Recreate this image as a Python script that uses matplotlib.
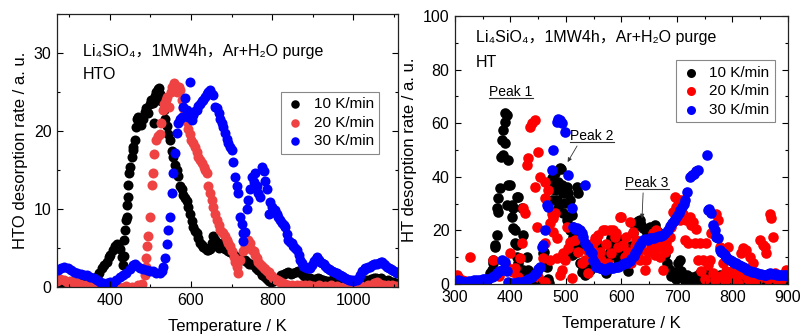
import numpy as np
import matplotlib
matplotlib.use("Agg")
import matplotlib.pyplot as plt
from matplotlib.ticker import MultipleLocator
from matplotlib.lines import Line2D

plt.rcParams['font.family'] = ['Liberation Sans', 'Noto Sans CJK SC', 'DejaVu Sans']

# ---- HTO panel data (temperature K, desorption rate a.u.) ----
hto_10_T = [272, 285, 298, 310, 322, 335, 345, 355, 362, 368, 374, 380, 386, 393, 398, 401, 407, 413, 417, 421,
            425, 429, 432, 434, 436, 438, 440, 442, 443, 445, 446, 447, 450, 454, 456, 458, 462, 464, 466, 470,
            474, 478, 482, 486, 490, 494, 498, 502, 506, 508, 512, 515, 518, 521, 524, 527, 530, 533, 536, 540,
            544, 548, 552, 556, 560, 565, 569, 573, 577, 581, 585, 589, 593, 598, 602, 606, 610, 614, 618, 622,
            626, 630, 635, 639, 643, 647, 651, 655, 659, 663, 668, 672, 676, 680, 685, 690, 695, 700, 705, 710,
            716, 721, 727, 732, 737, 743, 748, 754, 760, 765, 770, 776, 782, 787, 793, 798, 804, 810, 816, 822,
            828, 834, 840, 846, 852, 858, 864, 870, 876, 882, 888, 894, 900, 906, 912, 918, 924, 930, 936, 942,
            948, 954, 960, 966, 972, 978, 984, 990, 996, 1002, 1008, 1014, 1020, 1026, 1032, 1038, 1044, 1050,
            1056, 1062, 1068, 1074, 1080, 1086, 1092, 1098, 1104]
hto_10_y = [0.3, 0.5, 0.4, 0.6, 0.5, 0.7, 0.8, 1.0, 1.2, 1.3, 1.8, 2.4, 2.8, 3.2, 3.8, 4.1, 4.8, 5.2, 5.5, 5.4,
            4.9, 3.8, 2.8, 4.0, 6.0, 7.3, 8.6, 9.0, 10.5, 11.5, 13.1, 14.6, 15.4, 16.7, 17.6, 18.0, 18.8, 20.5, 21.6, 21.8,
            21.2, 20.8, 21.5, 22.4, 23.0, 22.3, 23.5, 24.0, 23.6, 21.0, 24.5, 25.0, 25.4, 25.5, 24.8, 23.8, 24.4, 22.7, 21.5, 20.6,
            19.6, 18.8, 17.5, 16.7, 15.6, 15.0, 14.2, 13.0, 12.6, 11.8, 11.4, 11.0, 10.2, 9.4, 8.4, 7.7, 7.2, 6.9, 6.3, 5.6,
            5.4, 5.1, 5.0, 4.8, 4.7, 4.9, 5.6, 6.6, 6.0, 5.3, 5.0, 5.4, 5.7, 5.3, 4.9, 4.6, 4.5, 4.3, 4.1, 3.9,
            3.7, 3.6, 3.5, 3.4, 3.2, 3.0, 2.9, 2.8, 2.5, 2.2, 2.0, 1.6, 1.3, 1.0, 0.8, 0.7, 0.8, 1.0, 1.2, 1.5,
            1.7, 1.8, 1.9, 1.7, 1.8, 1.9, 2.0, 1.8, 1.5, 1.3, 1.2, 1.1, 0.9, 1.0, 1.1, 1.0, 0.9, 0.8, 0.8, 0.7,
            0.9, 0.8, 0.7, 0.6, 0.6, 0.5, 0.6, 0.5, 0.4, 0.5, 0.6, 0.7, 0.6, 0.8, 0.9, 0.8, 1.0, 1.2,
            1.1, 1.0, 1.2, 0.9, 0.8, 0.9, 0.7, 0.6, 0.5]

hto_20_T = [270, 278, 286, 294, 302, 310, 318, 326, 334, 342, 352, 365, 380, 395, 410, 425, 440, 455, 470, 480,
            487, 488, 490, 492, 495, 500, 504, 506, 510, 514, 518, 523, 526, 530, 534, 538, 542, 546, 550, 554,
            558, 562, 566, 570, 573, 577, 581, 585, 589, 593, 597, 601, 605, 610, 614, 618, 622, 626, 631, 635,
            639, 643, 647, 651, 655, 659, 663, 668, 672, 676, 680, 684, 688, 692, 696, 700, 705, 709, 713, 716,
            721, 727, 733, 737, 741, 746, 750, 754, 758, 762, 766, 770, 775, 779, 783, 787, 791, 795, 799, 803,
            808, 812, 816, 820, 826, 832, 840, 850, 860, 870, 880, 890, 900, 915, 930, 945, 960, 975, 990, 1005,
            1020, 1035, 1050, 1058, 1066, 1075, 1085, 1095, 1105]
hto_20_y = [0.8, 1.0, 0.9, 0.7, 0.8, 0.6, 0.5, 0.4, 0.3, 0.2, 0.1, 0.2, 0.1, 0.0, 0.1, 0.0, 0.1, 0.0, 0.2, 0.4,
            1.5, 2.6, 3.7, 5.2, 6.5, 9.0, 13.1, 14.6, 17.1, 18.8, 19.3, 19.6, 21.0, 22.7, 23.4, 24.0, 24.4, 23.1, 25.0, 25.6,
            26.1, 25.8, 25.0, 25.7, 25.3, 24.0, 23.0, 22.3, 21.2, 20.3, 19.6, 18.8, 18.4, 18.0, 17.3, 16.7, 16.3, 15.9, 15.4, 15.0,
            14.6, 12.9, 12.0, 11.2, 10.3, 9.4, 8.6, 7.9, 7.3, 7.0, 6.9, 6.5, 6.0, 5.6, 5.2, 4.6, 3.9, 3.2, 2.6, 1.8,
            3.4, 4.6, 5.2, 5.0, 6.0, 5.6, 4.8, 4.6, 4.1, 3.7, 3.2, 3.0, 2.7, 2.5, 2.3, 2.1, 1.9, 1.6, 1.4, 1.2,
            1.0, 0.9, 0.8, 0.6, 0.5, 0.4, 0.3, 0.3, 0.2, 0.3, 0.2, 0.3, 0.1, 0.2, 0.1, 0.2, 0.1, 0.0, 0.1, 0.2,
            0.1, 0.3, 0.5, 0.7, 0.4, 0.2, 0.3, 0.2, 0.1]

hto_30_T = [272, 280, 288, 296, 304, 312, 320, 328, 336, 344, 352, 360, 368, 376, 384, 392, 400, 408, 416, 425,
            433, 441, 449, 456, 462, 468, 474, 482, 491, 499, 507, 515, 523, 528, 532, 536, 541, 544, 548, 552,
            556, 561, 565, 569, 573, 577, 581, 585, 589, 593, 598, 602, 606, 610, 614, 618, 622, 626, 630, 635,
            639, 643, 647, 651, 655, 659, 663, 668, 672, 676, 680, 684, 688, 692, 696, 701, 704, 709, 713, 717,
            721, 725, 727, 729, 733, 737, 741, 746, 750, 754, 758, 762, 766, 770, 775, 779, 783, 787, 791, 795,
            799, 803, 807, 811, 815, 820, 824, 828, 832, 836, 840, 844, 848, 852, 857, 861, 865, 869, 873, 877,
            882, 886, 890, 894, 899, 903, 907, 911, 915, 919, 923, 927, 931, 935, 939, 943, 948, 952, 956, 960,
            964, 968, 972, 975, 980, 984, 988, 992, 996, 1000, 1005, 1009, 1013, 1017, 1021, 1025, 1029, 1033,
            1037, 1041, 1045, 1050, 1054, 1058, 1062, 1067, 1071, 1075, 1079, 1083, 1088, 1092, 1096, 1100, 1104, 1108]
hto_30_y = [2.2, 2.4, 2.6, 2.5, 2.2, 1.9, 1.8, 1.7, 1.6, 1.5, 1.3, 1.1, 0.9, 0.7, 0.5, 0.5, 0.6, 0.5, 0.9, 1.3,
            1.5, 1.8, 2.3, 2.8, 3.0, 2.7, 2.5, 2.3, 2.2, 2.1, 2.0, 1.8, 1.8, 2.1, 2.6, 3.7, 5.5, 7.3, 9.0, 12.0,
            14.6, 17.2, 19.7, 21.0, 21.5, 21.8, 23.1, 24.2, 22.7, 21.8, 26.3, 21.4, 22.0, 22.6, 22.7, 23.2, 23.5, 23.8, 24.0, 24.4,
            24.8, 25.0, 25.3, 24.7, 24.6, 23.1, 23.0, 22.3, 21.5, 21.0, 20.5, 19.7, 19.0, 18.4, 18.0, 17.6, 16.0, 14.1, 13.0, 12.0,
            9.0, 8.1, 5.9, 6.9, 7.0, 10.0, 11.1, 12.6, 14.1, 13.5, 14.6, 13.0, 12.0, 11.6, 15.4, 14.9, 13.6, 12.6, 9.4, 10.9,
            10.3, 9.6, 9.9, 9.4, 9.0, 8.6, 8.2, 8.0, 7.7, 6.8, 6.0, 5.8, 5.6, 5.2, 5.0, 4.7, 4.1, 3.5, 3.1, 2.7,
            2.6, 2.5, 2.4, 2.4, 2.8, 3.3, 3.6, 3.9, 3.5, 3.2, 3.1, 3.0, 2.7, 2.5, 2.3, 2.2, 2.0, 1.9, 1.8, 1.8,
            1.6, 1.5, 1.4, 1.3, 1.1, 1.0, 0.9, 0.9, 0.9, 0.8, 0.9, 0.9, 1.2, 1.6, 2.0, 2.2, 2.4, 2.5,
            2.6, 2.6, 2.8, 2.9, 3.0, 3.0, 3.1, 3.2, 3.2, 3.0, 2.8, 2.6, 2.5, 2.3, 2.2, 2.0, 1.9, 1.8]

# ---- HT panel data ----
ht_10_T = [300, 310, 320, 330, 340, 350, 358, 363, 366, 369, 369, 372, 372, 375, 375, 378, 378, 381, 383, 384,
           387, 387, 390, 390, 391, 393, 393, 396, 396, 399, 402, 402, 405, 405, 408, 408, 411, 411, 411, 414,
           414, 417, 420, 423, 423, 426, 429, 432, 432, 438, 444, 450, 455, 459, 460, 462, 465, 468, 470, 474,
           474, 477, 480, 480, 483, 486, 486, 489, 491, 492, 495, 495, 498, 501, 501, 504, 507, 507, 510, 510,
           510, 513, 513, 516, 519, 522, 522, 525, 525, 528, 531, 534, 537, 540, 543, 546, 549, 552, 555, 558,
           561, 564, 567, 570, 573, 576, 579, 582, 585, 588, 591, 594, 597, 600, 603, 606, 609, 612, 615, 618,
           621, 624, 627, 630, 633, 636, 639, 642, 646, 648, 651, 654, 657, 660, 663, 666, 669, 672, 675, 678,
           682, 686, 690, 694, 698, 702, 705, 708, 711, 714, 718, 722, 726, 730, 734, 738, 742, 746, 750, 754,
           758, 762, 766, 770, 774, 778, 782, 786, 790, 794, 798, 802, 806, 810, 815, 820, 825, 830, 835, 840,
           845, 850, 855, 860, 866, 872, 878, 884, 890, 896]
ht_10_y = [0.5, 0.3, 0.5, 0.4, 0.6, 0.8, 1.5, 4.0, 5.2, 7.7, 9.0, 13.9, 14.6, 18.3, 28.2, 27.0, 32.0, 35.7, 47.5, 53.7,
           57.5, 48.0, 60.5, 52.5, 63.7, 63.0, 29.5, 46.3, 36.9, 36.9, 25.1, 29.4, 28.2, 20.8, 15.2, 20.1, 32.6, 14.5, 10.2, 32.5,
           7.7, 2.7, 28.2, 18.3, 5.2, 3.0, 10.2, 3.4, 5.2, 2.7, 1.5, 0.8, 1.2, 11.4, 11.8, 9.0, 6.5, 2.0, 0.5, 39.4,
           31.3, 36.3, 41.3, 35.1, 31.3, 38.2, 28.2, 43.2, 43.0, 36.9, 26.4, 33.8, 30.1, 23.9, 36.3, 33.8, 31.3, 20.1, 25.7, 15.2,
           10.8, 21.4, 17.7, 11.4, 36.3, 33.8, 16.4, 7.7, 13.9, 4.6, 6.5, 3.4, 4.0, 5.8, 5.2, 10.2, 8.0, 12.7, 16.0, 13.9,
           12.0, 10.8, 8.0, 6.5, 4.0, 10.2, 12.0, 17.0, 15.0, 13.9, 11.0, 9.0, 14.0, 16.4, 13.0, 10.5, 8.0, 5.0, 9.0, 14.0,
           19.0, 21.5, 22.5, 23.5, 23.9, 22.0, 21.0, 20.5, 19.0, 17.5, 21.3, 20.0, 18.0, 22.0, 20.0, 19.5, 17.5, 18.5, 17.5, 10.8,
           7.8, 5.5, 3.0, 4.5, 2.0, 8.0, 9.0, 5.0, 2.5, 1.0, 3.5, 1.5, 2.5, 0.5, 3.0, 1.5, 4.0, 2.5, 1.0, 3.5,
           4.0, 2.0, 3.0, 1.5, 2.5, 3.5, 1.0, 2.0, 0.5, 2.5, 1.5, 3.0, 1.0, 0.5, 2.0, 1.5, 0.5, 1.0, 2.0, 0.8,
           1.5, 0.5, 1.0, 0.3, 0.8, 0.5, 1.0, 0.3, 0.6, 0.2]

ht_20_T = [303, 306, 312, 318, 327, 340, 355, 369, 380, 393, 399, 405, 408, 414, 417, 420, 423, 426, 429, 432,
           435, 438, 444, 444, 447, 450, 450, 453, 459, 462, 462, 462, 462, 468, 471, 471, 474, 477, 477, 480,
           483, 483, 489, 492, 495, 498, 501, 504, 507, 510, 516, 522, 528, 534, 537, 540, 543, 546, 549, 552,
           555, 558, 561, 564, 567, 570, 573, 576, 579, 582, 585, 588, 591, 594, 597, 600, 603, 606, 609, 612,
           615, 618, 621, 624, 627, 630, 633, 636, 642, 645, 648, 651, 654, 657, 660, 663, 666, 669, 672, 675,
           678, 681, 684, 687, 690, 693, 696, 699, 702, 705, 708, 711, 714, 717, 720, 723, 726, 729, 732, 735,
           738, 741, 744, 747, 750, 753, 756, 759, 762, 765, 768, 771, 774, 777, 780, 783, 786, 789, 792, 795,
           798, 801, 804, 807, 810, 813, 816, 819, 822, 825, 828, 831, 834, 837, 840, 843, 846, 849, 852, 855,
           858, 861, 864, 867, 870, 873, 876, 879, 882, 888, 894, 897]
ht_20_y = [3.4, 2.5, 1.5, 1.0, 10.2, 0.5, 0.8, 9.0, 3.0, 6.5, 11.4, 4.6, 6.0, 2.7, 9.6, 15.2, 28.2, 26.4, 44.4, 46.9,
           58.7, 60.0, 61.2, 36.3, 21.4, 49.4, 2.7, 40.0, 9.6, 38.2, 32.0, 15.2, 0.9, 35.1, 22.6, 9.0, 26.3, 24.5, 19.5, 26.4,
           17.0, 9.6, 3.4, 5.2, 11.4, 9.0, 21.4, 13.3, 15.8, 2.1, 16.4, 12.0, 8.0, 9.0, 12.7, 4.0, 11.4, 13.9, 15.2, 17.0,
           16.4, 18.3, 12.0, 9.0, 20.1, 20.1, 15.0, 8.0, 20.1, 11.4, 20.0, 17.7, 18.9, 13.9, 25.1, 25.1, 14.5, 10.0, 17.6, 12.0,
           23.2, 8.0, 19.5, 14.0, 16.4, 11.0, 9.0, 13.0, 5.2, 9.0, 12.0, 16.4, 14.0, 18.9, 11.0, 20.1, 13.9, 10.2, 14.0, 5.2,
           12.0, 15.2, 13.0, 17.6, 21.4, 27.0, 32.5, 28.8, 31.3, 24.0, 31.3, 26.3, 16.4, 23.9, 15.2, 25.1, 22.0, 23.2, 15.2, 20.7,
           9.0, 15.2, 5.0, 9.0, 2.0, 15.2, 7.0, 9.0, 18.9, 4.0, 1.5, 26.3, 23.9, 13.9, 3.0, 7.7, 1.0, 5.0, 13.9, 2.5,
           4.0, 5.2, 1.5, 2.7, 0.5, 4.0, 11.4, 13.3, 3.5, 12.7, 2.0, 10.2, 5.0, 7.7, 1.0, 4.0, 2.0, 16.4, 3.0, 14.5,
           13.9, 11.4, 2.0, 26.3, 24.5, 17.6, 4.0, 2.1, 0.8, 1.5, 3.0, 5.2]

ht_30_T = [300, 305, 310, 315, 320, 325, 330, 335, 340, 345, 350, 355, 360, 366, 370, 375, 380, 384, 384, 390,
           393, 396, 402, 408, 414, 420, 426, 432, 438, 444, 447, 450, 453, 456, 459, 462, 465, 468, 474, 477,
           483, 486, 489, 492, 498, 504, 510, 513, 516, 519, 522, 525, 528, 531, 534, 535, 540, 543, 546, 549,
           552, 555, 558, 561, 564, 567, 570, 573, 576, 579, 582, 585, 590, 594, 598, 602, 606, 610, 615, 618,
           622, 625, 628, 632, 636, 639, 643, 647, 651, 655, 659, 663, 667, 671, 675, 679, 684, 688, 691, 694,
           697, 700, 703, 706, 709, 712, 715, 718, 724, 727, 730, 734, 738, 754, 756, 758, 761, 765, 768, 771,
           774, 777, 780, 783, 786, 789, 792, 795, 799, 803, 807, 811, 815, 819, 823, 827, 831, 835, 839, 844,
           848, 852, 856, 860, 864, 868, 872, 876, 880, 884, 888, 892, 896, 900]
ht_30_y = [1.2, 1.5, 1.0, 0.8, 0.9, 1.1, 1.3, 1.5, 1.4, 1.6, 1.8, 1.9, 2.0, 2.7, 3.0, 4.0, 4.8, 5.2, 9.0, 8.3,
           5.0, 0.9, 0.5, 0.4, 0.6, 0.9, 1.2, 1.8, 2.7, 3.8, 4.6, 5.5, 6.5, 13.9, 14.6, 20.1, 29.5, 28.8, 42.5, 50.0,
           60.6, 61.5, 61.2, 60.0, 56.8, 40.7, 28.2, 21.4, 20.5, 20.8, 20.5, 20.1, 19.0, 17.7, 15.2, 37.0, 13.9, 12.5, 11.4, 9.0,
           7.7, 6.5, 6.2, 6.0, 5.8, 5.5, 5.4, 5.5, 5.8, 6.3, 5.8, 6.0, 6.3, 6.5, 6.8, 7.5, 7.8, 8.0, 8.7, 9.5,
           10.5, 11.5, 12.7, 14.0, 15.2, 16.4, 16.8, 16.5, 17.0, 17.3, 17.0, 17.5, 17.8, 18.0, 18.1, 19.0, 20.1, 21.5, 22.6, 23.5,
           24.4, 25.5, 26.4, 27.5, 28.8, 30.0, 31.3, 34.4, 40.0, 40.5, 41.2, 42.0, 42.5, 48.1, 27.6, 28.0, 26.5, 22.0, 20.1, 17.6,
           17.0, 12.7, 12.0, 11.5, 10.9, 10.0, 9.5, 8.9, 8.5, 8.0, 7.7, 7.2, 6.8, 6.3, 5.8, 5.4, 5.0, 4.6, 4.3, 4.0,
           3.8, 3.6, 3.5, 3.5, 3.8, 4.0, 3.8, 3.6, 3.5, 3.5, 3.4, 3.5, 3.2, 3.0]

rate_labels = ["10 K/min", "20 K/min", "30 K/min"]
hto_colors = ["#000000", "#ef4343", "#0000ff"]
ht_colors = ["#000000", "#ff0000", "#0000ff"]
sample_text = "Li\u2084SiO\u2084\uff0c1MW4h\uff0cAr+H\u2082O purge"

fig = plt.figure(figsize=(8.02, 3.34), dpi=100)
ax1 = fig.add_axes([0.0711, 0.1407, 0.4252, 0.8174])
ax2 = fig.add_axes([0.5673, 0.1497, 0.4152, 0.8024])

# left: HTO
for T, y, lab, c in zip([hto_10_T, hto_20_T, hto_30_T], [hto_10_y, hto_20_y, hto_30_y], rate_labels, hto_colors):
    ax1.scatter(T, y, s=52, color=c, linewidths=0, label=lab)
ax1.set_xlim(270, 1110)
ax1.set_ylim(0, 35)
ax1.xaxis.set_major_locator(MultipleLocator(200))
ax1.xaxis.set_minor_locator(MultipleLocator(100))
ax1.yaxis.set_major_locator(MultipleLocator(10))
ax1.yaxis.set_minor_locator(MultipleLocator(5))
ax1.set_xlabel("Temperature / K", fontsize=12, labelpad=8)
ax1.set_ylabel("HTO desorption rate / a. u.", fontsize=12, labelpad=4)
ax1.text(0.076, 0.862, sample_text, transform=ax1.transAxes, fontsize=11.5, va="center")
ax1.text(0.076, 0.778, "HTO", transform=ax1.transAxes, fontsize=11.5, va="center")
leg1 = ax1.legend(loc="upper right", bbox_to_anchor=(0.945, 0.715), fontsize=11,
                  frameon=True, fancybox=False, edgecolor="#888888", framealpha=1,
                  handletextpad=0.6, labelspacing=0.3, borderpad=0.35, handlelength=1.2,
                  markerscale=0.85, borderaxespad=0)
leg1.get_frame().set_linewidth(0.8)

# right: HT
for T, y, lab, c in zip([ht_10_T, ht_20_T, ht_30_T], [ht_10_y, ht_20_y, ht_30_y], rate_labels, ht_colors):
    ax2.scatter(T, y, s=58, color=c, linewidths=0, label=lab)
ax2.set_xlim(300, 900)
ax2.set_ylim(0, 100)
ax2.xaxis.set_major_locator(MultipleLocator(100))
ax2.xaxis.set_minor_locator(MultipleLocator(50))
ax2.yaxis.set_major_locator(MultipleLocator(20))
ax2.yaxis.set_minor_locator(MultipleLocator(10))
ax2.set_xlabel("Temperature / K", fontsize=12, labelpad=8)
ax2.set_ylabel("HT desorption rate / a. u.", fontsize=12, labelpad=4)
ax2.text(0.063, 0.918, sample_text, transform=ax2.transAxes, fontsize=11.5, va="center")
ax2.text(0.063, 0.828, "HT", transform=ax2.transAxes, fontsize=11.5, va="center")
leg2 = ax2.legend(loc="upper right", bbox_to_anchor=(0.96, 0.835), fontsize=11,
                  frameon=True, fancybox=False, edgecolor="#888888", framealpha=1,
                  handletextpad=0.6, labelspacing=0.3, borderpad=0.35, handlelength=1.2,
                  markerscale=0.85, borderaxespad=0)
leg2.get_frame().set_linewidth(0.8)

# peak labels with small arrows
arrow = dict(arrowstyle="-|>", color="#333333", lw=0.6, mutation_scale=6, shrinkA=0, shrinkB=0)
p1 = ax2.text(401, 69, "Peak 1", fontsize=10, ha="center", va="bottom")
p2 = ax2.text(547, 52.5, "Peak 2", fontsize=10, ha="center", va="bottom")
p3 = ax2.text(646, 35.0, "Peak 3", fontsize=10, ha="center", va="bottom")
ax2.annotate("", xy=(503, 45.5), xytext=(520, 51.5), arrowprops=arrow)
ax2.annotate("", xy=(637, 24.5), xytext=(639, 34), arrowprops=arrow)

for ax in (ax1, ax2):
    ax.tick_params(which="both", direction="in", top=True, right=True, labelsize=11.5, width=0.8)
    ax.tick_params(which="major", length=4, pad=4)
    ax.tick_params(which="minor", length=2)
    for sp in ax.spines.values():
        sp.set_linewidth(0.9)
        sp.set_color("#222222")

# underline the peak labels
fig.canvas.draw()
inv = fig.transFigure.inverted()
for t in (p1, p2, p3):
    bb = t.get_window_extent()
    (x0, y0), (x1, _) = inv.transform([[bb.x0, bb.y0 + 1], [bb.x1, bb.y0 + 1]])
    fig.add_artist(Line2D([x0, x1], [y0, y0], color="#333333", lw=0.8))

fig.savefig("out.png", dpi=100)
